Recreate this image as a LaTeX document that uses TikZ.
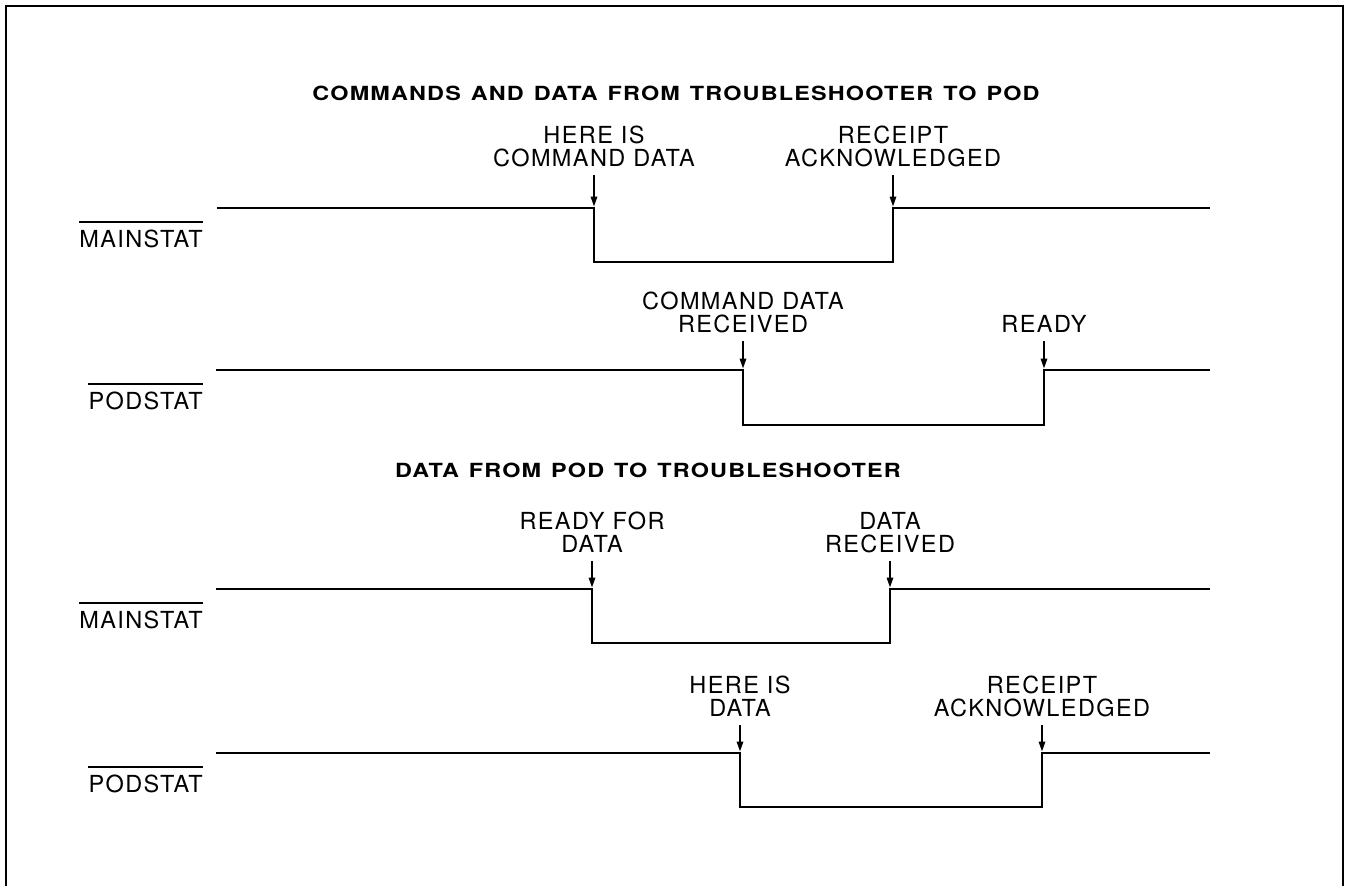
\documentclass[tikz,border=0pt]{standalone}
\usepackage{fontspec}
\usepackage{graphicx}
\setmainfont{TeX Gyre Heros}
\newfontfamily\lblfont[LetterSpace=6]{TeX Gyre Heros}
\newfontfamily\ttlfont[LetterSpace=5,WordSpace=1.3]{TeX Gyre Heros}
\newcommand{\widettl}[1]{\scalebox{1.2}[1]{#1}}
\usetikzlibrary{arrows.meta}
\begin{document}
\begin{tikzpicture}[x=1pt,y=-1pt,
  wave/.style={line width=2.8pt, line join=miter},
  lbl/.style={font=\lblfont\fontsize{23.5}{23.3}\selectfont, align=center, inner sep=0pt, anchor=south},
  sig/.style={font=\lblfont\fontsize{23.5}{24}\selectfont, inner sep=0pt, text height=16.8pt, text depth=0pt, anchor=base east},
  ttl/.style={font=\ttlfont\bfseries\fontsize{19.5}{20}\selectfont, inner sep=0pt, anchor=base},
  ptr/.style={line width=1.6pt, -{Triangle[length=10pt,width=6.5pt]}},
  ovl/.style={line width=1.3pt},
  frm/.style={line width=2pt}]
\useasboundingbox (0,0) rectangle (1353,886);
% frame
\draw[frm] (6,886) -- (6,6) -- (1343,6) -- (1343,886);

% titles
\node[ttl] (t1) at (676,100) {\widettl{COMMANDS AND DATA FROM TROUBLESHOOTER TO POD}};
\node[ttl] (t2) at (648,477) {\widettl{DATA FROM POD TO TROUBLESHOOTER}};

% signal names
\node[sig] (s1) at (203,247) {MAINSTAT};
\node[sig] (s2) at (203,409) {PODSTAT};
\node[sig] (s3) at (203,628) {MAINSTAT};
\node[sig] (s4) at (203,792) {PODSTAT};
\foreach \s in {s1,s2,s3,s4}
  \draw[ovl] ([yshift=8pt]\s.north west) -- ([yshift=8pt]\s.north east);

% waveforms
\draw[wave] (217,208) -- (594,208) -- (594,262) -- (893,262) -- (893,208) -- (1210,208);
\draw[wave] (216,370) -- (743,370) -- (743,425) -- (1044,425) -- (1044,370) -- (1210,370);
\draw[wave] (216,589) -- (592,589) -- (592,643) -- (890,643) -- (890,589) -- (1210,589);
\draw[wave] (216,753) -- (740,753) -- (740,807) -- (1042,807) -- (1042,753) -- (1210,753);

% edge points
\coordinate (e1) at (594,206.5);
\coordinate (e2) at (893,206.5);
\coordinate (e3) at (743,368.5);
\coordinate (e4) at (1044,368.5);
\coordinate (e5) at (592,587.5);
\coordinate (e6) at (890,587.5);
\coordinate (e7) at (740,751.5);
\coordinate (e8) at (1042,751.5);

% event labels
\node[lbl] (l1) at (594,167) {HERE IS\\COMMAND DATA};
\node[lbl] (l2) at (893,167) {RECEIPT\\ACKNOWLEDGED};
\node[lbl] (l3) at (743,333) {COMMAND DATA\\RECEIVED};
\node[lbl] (l4) at (1044,333) {READY};
\node[lbl] (l5) at (592,553) {READY FOR\\DATA};
\node[lbl] (l6) at (890,553) {DATA\\RECEIVED};
\node[lbl] (l7) at (740,717) {HERE IS\\DATA};
\node[lbl] (l8) at (1042,717) {RECEIPT\\ACKNOWLEDGED};

% arrows
\draw[ptr] ([yshift=-8pt]l1.south) -- (e1);
\draw[ptr] ([yshift=-8pt]l2.south) -- (e2);
\draw[ptr] ([yshift=-8pt]l3.south) -- (e3);
\draw[ptr] ([yshift=-8pt]l4.south) -- (e4);
\draw[ptr] ([yshift=-8pt]l5.south) -- (e5);
\draw[ptr] ([yshift=-8pt]l6.south) -- (e6);
\draw[ptr] ([yshift=-8pt]l7.south) -- (e7);
\draw[ptr] ([yshift=-8pt]l8.south) -- (e8);
\end{tikzpicture}
\end{document}
